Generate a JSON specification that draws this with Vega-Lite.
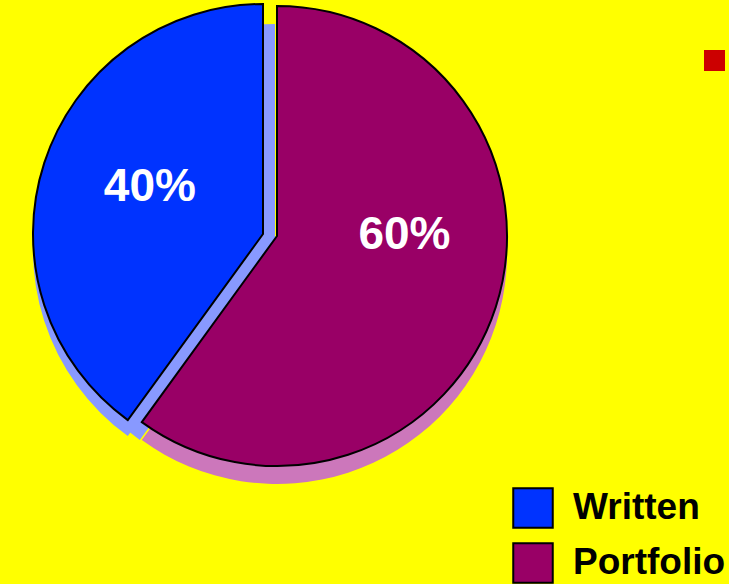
{
  "$schema": "https://vega.github.io/schema/vega-lite/v6.json",
  "width": 540,
  "height": 460,
  "padding": 0,
  "background": "#ffff00",
  "config": {"view": {"stroke": null}, "font": "Liberation Sans"},
  "data": {"values": [
    {"category": "Written", "value": 0.4},
    {"category": "Portfolio", "value": 0.6}
  ]},
  "transform": [
    {"stack": "value", "groupby": [], "as": ["t0", "t1"], "sort": [{"field": "category", "order": "ascending"}]}
  ],
  "layer": [
    {
      "transform": [{"filter": "datum.category === 'Written'"}],
      "mark": {"type": "arc", "outerRadius": 230, "color": "#8899ff", "xOffset": -7, "yOffset": 16},
      "encoding": {"theta": {"field": "t0", "type": "quantitative", "scale": {"domain": [0, 1]}}, "theta2": {"field": "t1"}}
    },
    {
      "transform": [{"filter": "datum.category === 'Written'"}],
      "mark": {"type": "arc", "outerRadius": 230, "color": "#8899ff", "xOffset": 5, "yOffset": 20},
      "encoding": {"theta": {"field": "t0", "type": "quantitative", "scale": {"domain": [0, 1]}}, "theta2": {"field": "t1"}}
    },
    {
      "transform": [{"filter": "datum.category === 'Portfolio'"}],
      "mark": {"type": "arc", "outerRadius": 230, "color": "#cc77bb", "xOffset": 7, "yOffset": 20},
      "encoding": {"theta": {"field": "t0", "type": "quantitative", "scale": {"domain": [0, 1]}}, "theta2": {"field": "t1"}}
    },
    {
      "transform": [{"filter": "datum.category === 'Written'"}],
      "mark": {"type": "arc", "outerRadius": 230, "stroke": "black", "strokeWidth": 2, "xOffset": -7, "yOffset": 0},
      "encoding": {
        "theta": {"field": "t0", "type": "quantitative", "scale": {"domain": [0, 1]}}, "theta2": {"field": "t1"},
        "color": {"field": "category", "type": "nominal", "scale": {"domain": ["Written", "Portfolio"], "range": ["#0033ff", "#990066"]},
          "legend": {"orient": "none", "legendX": 512, "legendY": 483, "title": null, "symbolType": "square", "symbolSize": 1560,
            "symbolStrokeColor": "black", "symbolStrokeWidth": 2, "symbolOpacity": 1, "labelFontSize": 37, "labelFont": "Liberation Sans", "labelFontWeight": "bold",
            "labelColor": "black", "labelOffset": 19, "rowPadding": 7, "labelLimit": 400}}
      }
    },
    {
      "transform": [{"filter": "datum.category === 'Portfolio'"}],
      "mark": {"type": "arc", "outerRadius": 230, "stroke": "black", "strokeWidth": 2, "xOffset": 7, "yOffset": 2},
      "encoding": {
        "theta": {"field": "t0", "type": "quantitative", "scale": {"domain": [0, 1]}}, "theta2": {"field": "t1"},
        "color": {"field": "category", "type": "nominal", "scale": {"domain": ["Written", "Portfolio"], "range": ["#0033ff", "#990066"]}}
      }
    },
    {
      "mark": {"type": "text", "radius": 119, "xOffset": -7, "yOffset": -10, "fontSize": 46, "fontWeight": "bold", "color": "white", "align": "center", "baseline": "middle"},
      "encoding": {
        "theta": {"field": "value", "type": "quantitative", "stack": true, "scale": {"domain": [0, 1]}},
        "order": {"field": "category", "sort": "ascending"},
        "opacity": {"condition": {"test": "datum.category === 'Written'", "value": 1}, "value": 0},
        "text": {"field": "value", "type": "quantitative", "format": ".0%"}
      }
    },
    {
      "mark": {"type": "text", "radius": 134, "xOffset": 7, "yOffset": -40, "fontSize": 46, "fontWeight": "bold", "color": "white", "align": "center", "baseline": "middle"},
      "encoding": {
        "theta": {"field": "value", "type": "quantitative", "stack": true, "scale": {"domain": [0, 1]}},
        "order": {"field": "category", "sort": "ascending"},
        "opacity": {"condition": {"test": "datum.category === 'Portfolio'", "value": 1}, "value": 0},
        "text": {"field": "value", "type": "quantitative", "format": ".0%"}
      }
    },
    {
      "mark": {"type": "point", "filled": true, "opacity": 0, "color": "#cc0000"},
      "encoding": {
        "shape": {"datum": "marker", "scale": {"range": ["square"]},
          "legend": {"orient": "none", "legendX": 704, "legendY": 46, "title": null, "symbolSize": 441, "symbolFillColor": "#cc0000",
            "symbolStrokeWidth": 0, "symbolOpacity": 1, "labelExpr": "''"}}
      }
    }
  ]
}
